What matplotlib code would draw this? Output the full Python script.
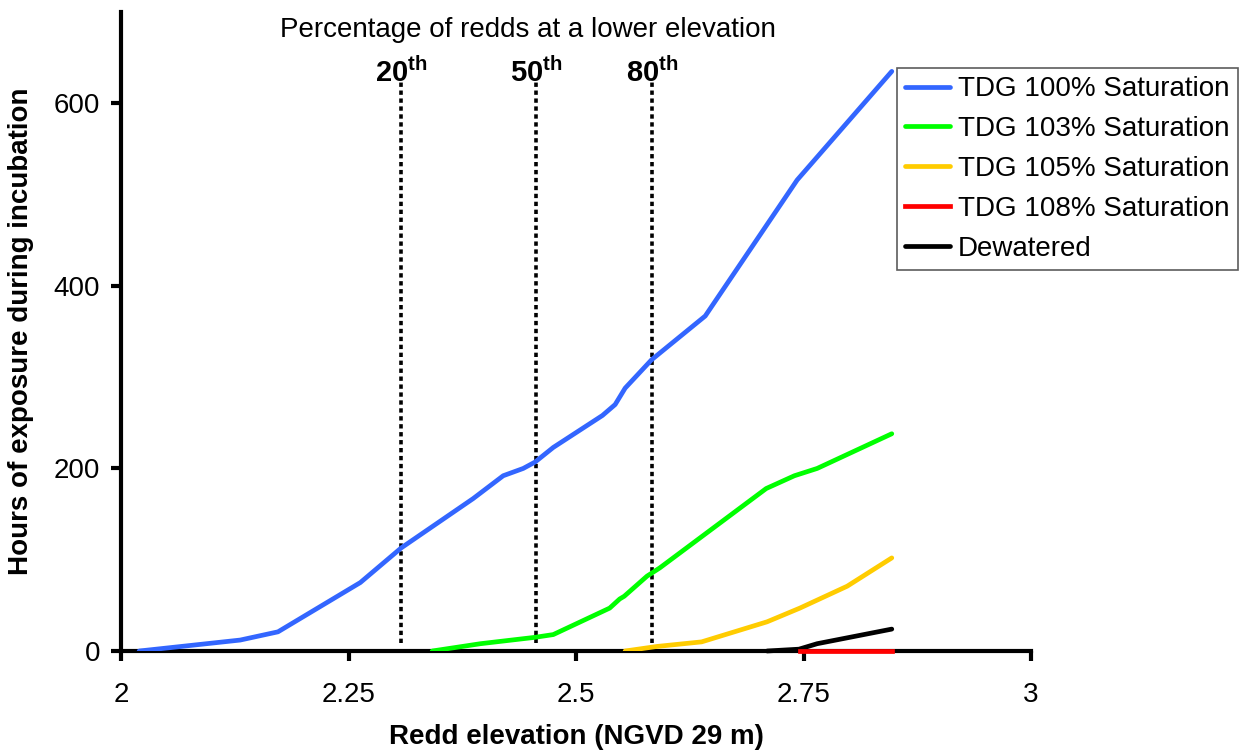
import matplotlib
matplotlib.use("Agg")
import matplotlib.pyplot as plt

plt.rcParams["font.family"] = ["Liberation Sans", "DejaVu Sans"]
plt.rcParams["mathtext.fontset"] = "custom"
plt.rcParams["mathtext.rm"] = "Liberation Sans"
plt.rcParams["mathtext.bf"] = "Liberation Sans:bold"

# Hours of exposure vs. redd elevation, one curve per condition
tdg100_x = [2.02, 2.131, 2.1725, 2.263, 2.308, 2.387, 2.42, 2.442, 2.455, 2.475,
            2.529, 2.543, 2.554, 2.583, 2.642, 2.743, 2.847]
tdg100_y = [0, 12, 21, 75, 113, 167, 192, 200, 207, 223,
            258, 270, 288, 319, 367, 516, 635]

tdg103_x = [2.342, 2.395, 2.455, 2.475, 2.537, 2.548, 2.553, 2.578, 2.592,
            2.709, 2.74, 2.765, 2.847]
tdg103_y = [0, 8, 15, 18, 47, 57, 60, 82, 91, 178, 192, 200, 238]

tdg105_x = [2.554, 2.589, 2.638, 2.71, 2.746, 2.798, 2.847]
tdg105_y = [0, 5, 10, 32, 47, 71, 102]

tdg108_x = [2.746, 2.847]
tdg108_y = [0, 0]

dewatered_x = [2.71, 2.745, 2.765, 2.847]
dewatered_y = [0, 2, 8, 24]

# Elevation of the 20th, 50th and 80th percentile redds
pct_labels = ["20", "50", "80"]
pct_elev = [2.308, 2.456, 2.5835]

x_ticks = [2, 2.25, 2.5, 2.75, 3]
x_tick_labels = ["2", "2.25", "2.5", "2.75", "3"]
y_ticks = [0, 200, 400, 600]

fig = plt.figure(figsize=(12.41, 7.52), dpi=100)
ax = fig.add_axes([0.0975, 0.1343, 0.7333, 0.8497])

lw = 3.4
ax.plot(tdg100_x, tdg100_y, color="#3366ff", lw=lw, label="TDG 100% Saturation",
        solid_capstyle="round", zorder=4)
ax.plot(tdg103_x, tdg103_y, color="#00ff00", lw=lw, label="TDG 103% Saturation",
        solid_capstyle="round", zorder=4)
ax.plot(tdg105_x, tdg105_y, color="#ffcc00", lw=lw, label="TDG 105% Saturation",
        solid_capstyle="round", zorder=4)
ax.plot(tdg108_x, tdg108_y, color="#ff0000", lw=lw, label="TDG 108% Saturation",
        clip_on=False, zorder=6)
ax.plot(dewatered_x, dewatered_y, color="black", lw=lw, label="Dewatered",
        solid_capstyle="round", clip_on=False, zorder=5)

for lab, xe in zip(pct_labels, pct_elev):
    ax.plot([xe, xe], [9, 626], color="black", lw=2.6, linestyle=(0, (1.2, 1.0)),
            zorder=3)
    ax.text(xe, 634, r"$\mathbf{" + lab + r"^{th}}$", ha="center", va="center",
            fontsize=21)

ax.text(2.447, 680, "Percentage of redds at a lower elevation", ha="center",
        va="center", fontsize=20)

ax.set_xlim(2, 3)
ax.set_ylim(0, 700)
ax.set_xticks(x_ticks)
ax.set_xticklabels(x_tick_labels)
ax.set_yticks(y_ticks)

for side in ["top", "right"]:
    ax.spines[side].set_visible(False)
for side in ["left", "bottom"]:
    ax.spines[side].set_linewidth(3)

ax.tick_params(axis="both", labelsize=20, width=3, length=7, direction="out")
ax.tick_params(axis="x", pad=15)
ax.tick_params(axis="y", pad=8)

ax.set_xlabel("Redd elevation (NGVD 29 m)", fontsize=20, fontweight="bold",
              labelpad=12)
ax.set_ylabel("Hours of exposure during incubation", fontsize=20,
              fontweight="bold", labelpad=14)

leg = ax.legend(loc="upper left", bbox_to_anchor=(0.7228, 0.9096),
                bbox_transform=fig.transFigure, fontsize=20, frameon=True,
                fancybox=False, edgecolor="#333333", borderaxespad=0,
                borderpad=0.3, handlelength=1.6, handletextpad=0.3,
                labelspacing=0.5)
leg.get_frame().set_linewidth(1.2)

fig.savefig("out.png", dpi=100)
